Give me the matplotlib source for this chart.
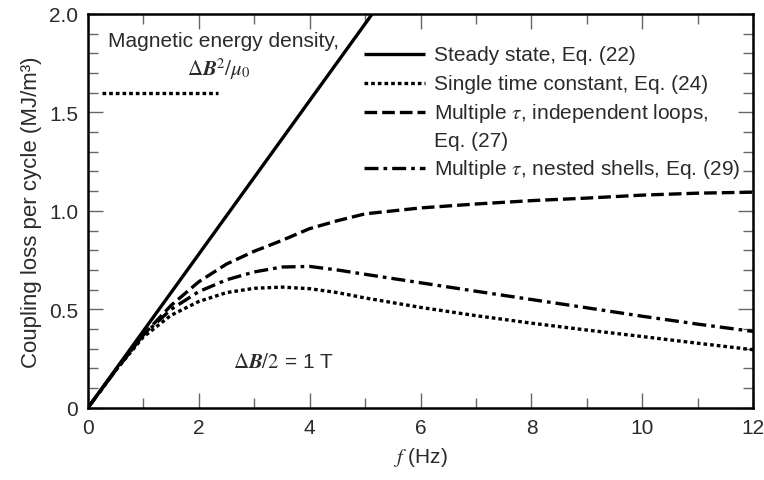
import numpy as np
import matplotlib
matplotlib.use('Agg')
import matplotlib.pyplot as plt

plt.rcParams['font.family'] = ['Liberation Sans', 'DejaVu Sans']
plt.rcParams['mathtext.fontset'] = 'custom'
plt.rcParams['mathtext.rm'] = 'STIXGeneral'
plt.rcParams['mathtext.it'] = 'STIXGeneral:italic'
plt.rcParams['mathtext.bf'] = 'STIXGeneral:italic:bold'

# values (MJ/m^3 against Hz)
f_steady = [0.0, 12.0]
steady = [0.0, 0.39 * 12.0]

f_curve = [0, 0.5, 1, 1.5, 2, 2.5, 3, 3.5, 4, 4.5, 5, 6, 7, 8, 9, 10, 11, 12]
single_tau = [0, 0.19, 0.36, 0.47, 0.54, 0.585, 0.607, 0.613, 0.605, 0.585, 0.558,
              0.51, 0.468, 0.43, 0.395, 0.362, 0.328, 0.295]
indep_loops = [0, 0.19, 0.37, 0.52, 0.64, 0.73, 0.795, 0.85, 0.91, 0.95, 0.985,
               1.015, 1.035, 1.052, 1.065, 1.08, 1.09, 1.095]
nested_shells = [0, 0.19, 0.37, 0.50, 0.59, 0.65, 0.69, 0.715, 0.718, 0.70, 0.678,
                 0.635, 0.592, 0.55, 0.508, 0.465, 0.425, 0.388]

f_energy = [0.25, 2.34]
energy = [1.6, 1.6]

labels = ['Steady state, Eq. (22)',
          'Single time constant, Eq. (24)',
          'Multiple $\\tau$, independent loops,\nEq. (27)',
          'Multiple $\\tau$, nested shells, Eq. (29)']

lw = 2.4
dot = (1.1, 0.9)
dash = (3.8, 1.5)
dashdot = (4.2, 1.5, 1.1, 1.5)
txt = '#2a2a2a'
fs = 15

fig = plt.figure(figsize=(7.64, 4.81), dpi=100)
ax = fig.add_axes([0.115, 0.150, 0.871, 0.819])

ax.plot(f_steady, steady, color='black', lw=lw, solid_capstyle='butt')
ax.plot(f_curve, single_tau, color='black', lw=lw, dashes=dot)
ax.plot(f_curve, indep_loops, color='black', lw=lw, dashes=dash)
ax.plot(f_curve, nested_shells, color='black', lw=lw, dashes=dashdot)
ax.plot(f_energy, energy, color='black', lw=lw, dashes=dot)

ax.set_xlim(0, 12)
ax.set_ylim(0, 2.0)
ax.set_xticks(np.arange(0, 13, 2))
ax.set_xticks(np.arange(0, 13, 1), minor=True)
ax.set_yticks([0, 0.5, 1.0, 1.5, 2.0])
ax.set_yticklabels(['0', '0.5', '1.0', '1.5', '2.0'])
ax.set_yticks(np.arange(0, 2.01, 0.1), minor=True)
ax.tick_params(which='both', direction='in', top=True, right=True, labelsize=fs,
               width=1, color='#666666', labelcolor=txt)
ax.tick_params(which='major', length=11, pad=7)
ax.tick_params(which='minor', length=7)
for s in ax.spines.values():
    s.set_linewidth(1.8)

ax.set_xlabel('$f$ (Hz)', fontsize=fs, labelpad=6, color=txt)
ax.set_ylabel('Coupling loss per cycle (MJ/m\u00b3)', fontsize=16, labelpad=5, color=txt)

# legend drawn by hand to match the original layout
styles = [None, dot, dash, dashdot]
rows = [0.898, 0.824, 0.751, 0.608]
for st, yy, lab in zip(styles, rows, labels):
    kw = dict(color='black', lw=lw, transform=ax.transAxes)
    if st is None:
        ax.plot([0.415, 0.506], [yy, yy], solid_capstyle='butt', **kw)
    else:
        ax.plot([0.415, 0.506], [yy, yy], dashes=st, **kw)
    for i, line in enumerate(lab.split('\n')):
        ax.text(0.520, yy - i * 0.0715, line, transform=ax.transAxes,
                fontsize=fs, va='center', ha='left', color=txt)

ax.text(0.2035, 0.932, 'Magnetic energy density,', transform=ax.transAxes,
        fontsize=fs, ha='center', va='center', color=txt)
ax.text(0.196, 0.862, '$\\Delta\\mathbf{B}^2/\\mu_0$', transform=ax.transAxes,
        fontsize=fs, ha='center', va='center', color=txt)
ax.text(0.218, 0.117, '$\\Delta\\mathbf{B}/2$ = 1 T', transform=ax.transAxes,
        fontsize=fs, ha='left', va='center', color=txt)

fig.savefig('out.png', dpi=100)
